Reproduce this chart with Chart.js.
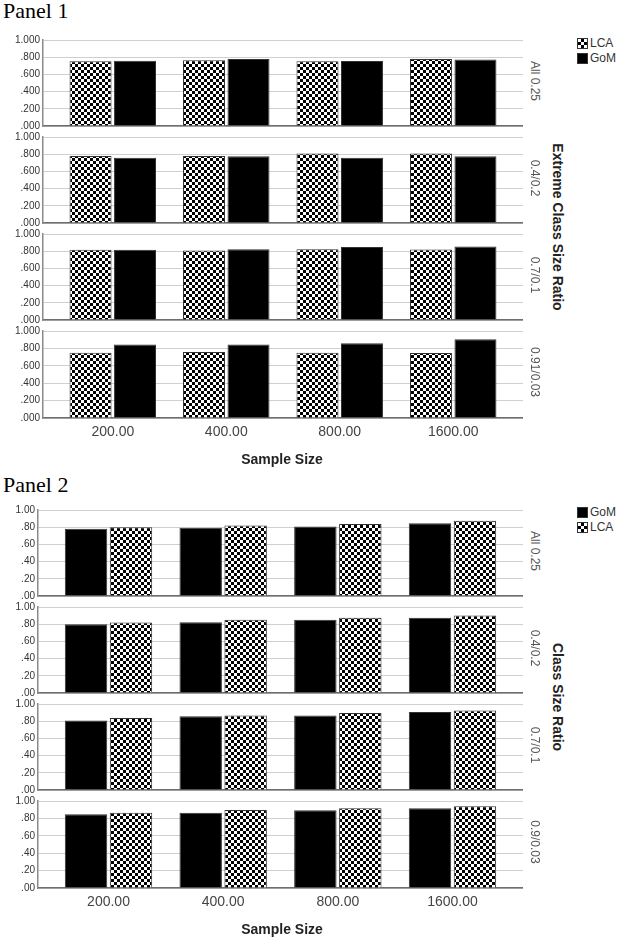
<!DOCTYPE html>
<html>
<head>
<meta charset="utf-8">
<script src="https://cdn.jsdelivr.net/npm/chart.js@4.4.1/dist/chart.umd.min.js"></script>
<style>
  body { margin: 0; background: #fff; }
  #page { position: relative; width: 618px; height: 940px; overflow: hidden; font-family: "Liberation Sans", Arial, sans-serif; }
  #page canvas { position: absolute; left: 0; }
  .panel { position: absolute; left: 3px; font-family: "Liberation Serif", "Times New Roman", serif; font-size: 22px; line-height: 22px; color: #000; }
  .facet { position: absolute; writing-mode: vertical-rl; font-size: 12px; color: #555; transform: translate(-50%, -50%); white-space: nowrap; }
  .ytitle { position: absolute; writing-mode: vertical-rl; font-size: 14px; font-weight: bold; color: #222; transform: translate(-50%, -50%); white-space: nowrap; }
  .xtitle { position: absolute; font-size: 14px; font-weight: bold; color: #222; transform: translate(-50%, -50%); white-space: nowrap; }
  .legend { position: absolute; left: 577px; font-size: 12px; color: #333; line-height: 15px; }
  .legend div { display: flex; align-items: center; }
  .swatch { width: 11px; height: 11px; margin-right: 2px; box-sizing: border-box; border: 1px solid #333; }
  .solid { background: #000; }
  .check { background: repeating-conic-gradient(#000 0 25%, #fff 0 50%) 0 0 / 6px 6px; }
</style>
</head>
<body>
<div id="page">
  <div class="panel" style="top:0px">Panel 1</div>
  <div class="panel" style="top:474px">Panel 2</div>
</div>
<script>
// x categories
const sampleSizes = ["200.00", "400.00", "800.00", "1600.00"];

// Panel 1 (Extreme Class Size Ratio)
const p1Ratios = ["All 0.25", "0.4/0.2", "0.7/0.1", "0.91/0.03"];
const p1LcaAll = [0.753, 0.765, 0.753, 0.780];
const p1GomAll = [0.758, 0.780, 0.757, 0.773];
const p1Lca42 = [0.779, 0.779, 0.809, 0.809];
const p1Gom42 = [0.760, 0.775, 0.760, 0.775];
const p1Lca71 = [0.817, 0.808, 0.823, 0.819];
const p1Gom71 = [0.817, 0.823, 0.850, 0.854];
const p1Lca91 = [0.750, 0.758, 0.750, 0.746];
const p1Gom91 = [0.846, 0.846, 0.858, 0.904];

// Panel 2 (Class Size Ratio)
const p2Ratios = ["All 0.25", "0.4/0.2", "0.7/0.1", "0.9/0.03"];
const p2GomAll = [0.782, 0.794, 0.809, 0.847];
const p2LcaAll = [0.798, 0.820, 0.836, 0.874];
const p2Gom42 = [0.800, 0.824, 0.851, 0.874];
const p2Lca42 = [0.821, 0.851, 0.874, 0.900];
const p2Gom71 = [0.808, 0.858, 0.865, 0.908];
const p2Lca71 = [0.838, 0.865, 0.896, 0.923];
const p2Gom90 = [0.847, 0.866, 0.893, 0.916];
const p2Lca90 = [0.866, 0.897, 0.916, 0.939];

const page = document.getElementById("page");
const fontFamily = "'Liberation Sans', Arial, sans-serif";

function checker(ctx) {
    const c = document.createElement("canvas");
    c.width = 6; c.height = 6;
    const g = c.getContext("2d");
    g.fillStyle = "#fff"; g.fillRect(0, 0, 6, 6);
    g.fillStyle = "#000"; g.fillRect(0, 0, 3, 3); g.fillRect(3, 3, 3, 3);
    return ctx.createPattern(c, "repeat");
}

function addText(cls, text, x, y) {
    const d = document.createElement("div");
    d.className = cls;
    d.textContent = text;
    d.style.left = x + "px";
    d.style.top = y + "px";
    page.appendChild(d);
}

// one facet row: 1.0 gridline at gridTop, 0 at gridTop + 88
function subplot(gridTop, axisW, decimals, series, last) {
    const bottomH = last ? 30 : 8;
    const cv = document.createElement("canvas");
    cv.width = 523;
    cv.height = 8 + 88 + bottomH;
    cv.style.top = (gridTop - 8) + "px";
    page.appendChild(cv);
    const ctx = cv.getContext("2d");
    const pat = checker(ctx);

    new Chart(ctx, {
        type: "bar",
        data: {
            datasets: series.map(s => ({
                label: s.label,
                data: s.values.map((v, i) => ({ x: i, y: v })),
                backgroundColor: s.label === "LCA" ? pat : "#000",
                borderColor: "#333",
                borderWidth: 1,
                categoryPercentage: 0.784,
                barPercentage: 0.944
            }))
        },
        options: {
            responsive: false,
            animation: false,
            devicePixelRatio: 1,
            layout: { padding: { top: 8, left: 0, right: 0, bottom: 0 } },
            plugins: { legend: { display: false }, tooltip: { enabled: false } },
            scales: {
                x: {
                    type: "linear",
                    min: -0.615,
                    max: 3.615,
                    offset: false,
                    afterBuildTicks: s => { s.ticks = sampleSizes.map((_, i) => ({ value: i })); },
                    afterFit: s => { s.height = bottomH; },
                    grid: { display: false, drawTicks: false },
                    border: { display: true, color: "#6e6e6e", width: 1.5 },
                    ticks: {
                        display: last,
                        padding: 6,
                        color: "#444",
                        font: { size: 14, family: fontFamily },
                        callback: v => sampleSizes[v] ?? ""
                    }
                },
                y: {
                    min: 0,
                    max: 1,
                    afterFit: s => { s.width = axisW; },
                    ticks: {
                        stepSize: 0.2,
                        padding: 3,
                        color: "#333",
                        font: { size: 10, family: fontFamily },
                        callback: v => v.toFixed(decimals).replace(/^0/, "")
                    },
                    grid: { color: "#cfcfcf", lineWidth: 1, drawTicks: false },
                    border: { color: "#8a8a8a", width: 1.5 }
                }
            }
        }
    });
}

function panel(tops, axisW, decimals, ratios, rows, title, legendTop, legendOrder) {
    tops.forEach((t, k) => {
        subplot(t, axisW, decimals, rows[k], k === tops.length - 1);
        addText("facet", ratios[k], 535, t + 42);
    });
    const mid = (tops[0] + tops[tops.length - 1] + 88) / 2;
    addText("ytitle", title, 558, mid - 2);
    addText("xtitle", "Sample Size", 282, tops[tops.length - 1] + 88 + 41);

    const lg = document.createElement("div");
    lg.className = "legend";
    lg.style.top = legendTop + "px";
    legendOrder.forEach(name => {
        const row = document.createElement("div");
        row.innerHTML = '<span class="swatch ' + (name === "LCA" ? "check" : "solid") + '"></span>' + name;
        lg.appendChild(row);
    });
    page.appendChild(lg);
}

panel([39, 136, 233, 330], 43, 3, p1Ratios, [
    [{ label: "LCA", values: p1LcaAll }, { label: "GoM", values: p1GomAll }],
    [{ label: "LCA", values: p1Lca42 }, { label: "GoM", values: p1Gom42 }],
    [{ label: "LCA", values: p1Lca71 }, { label: "GoM", values: p1Gom71 }],
    [{ label: "LCA", values: p1Lca91 }, { label: "GoM", values: p1Gom91 }]
], "Extreme Class Size Ratio", 36, ["LCA", "GoM"]);

panel([509, 606, 703, 800], 38, 2, p2Ratios, [
    [{ label: "GoM", values: p2GomAll }, { label: "LCA", values: p2LcaAll }],
    [{ label: "GoM", values: p2Gom42 }, { label: "LCA", values: p2Lca42 }],
    [{ label: "GoM", values: p2Gom71 }, { label: "LCA", values: p2Lca71 }],
    [{ label: "GoM", values: p2Gom90 }, { label: "LCA", values: p2Lca90 }]
], "Class Size Ratio", 505, ["GoM", "LCA"]);
</script>
</body>
</html>
